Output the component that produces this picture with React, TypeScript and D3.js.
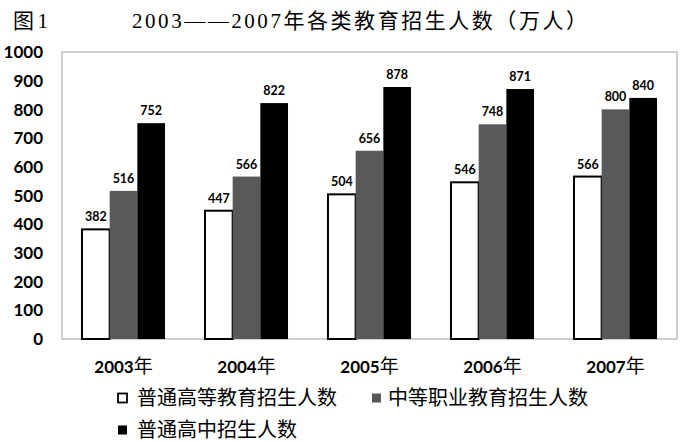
import React from "react";
import * as d3 from "d3";

const categories = ["2003年", "2004年", "2005年", "2006年", "2007年"];
const seriesNames = ["普通高等教育招生人数", "中等职业教育招生人数", "普通高中招生人数"];
const higherEdu = [382, 447, 504, 546, 566];
const vocational = [516, 566, 656, 748, 800];
const highSchool = [752, 822, 878, 871, 840];
const yTicks = [0, 100, 200, 300, 400, 500, 600, 700, 800, 900, 1000];
const titleText = "2003——2007年各类教育招生人数（万人）";
const figLabel = "图1";

const W = 687;
const H = 443;
const plot = { left: 62, right: 677, top: 52, bottom: 339 };
const fills = ["#ffffff", "#595959", "#000000"];

export default function App() {
  const series = [higherEdu, vocational, highSchool];
  const x = d3
    .scaleBand<string>()
    .domain(categories)
    .range([plot.left, plot.right])
    .paddingInner(0.325)
    .paddingOuter(0.1625);
  const xi = d3
    .scaleBand<number>()
    .domain([0, 1, 2])
    .range([0, x.bandwidth()])
    .padding(0);
  const y = d3.scaleLinear().domain([0, 1000]).range([plot.bottom, plot.top]);
  const numFont = "Lato, 'Open Sans', sans-serif";
  const cjk = "'Noto Sans CJK SC', sans-serif";

  return (
    <svg
      width={W}
      height={H}
      style={{ position: "absolute", left: 0, top: 0, background: "#fff" }}
    >
      <text x={13} y={28} fontSize={21} fontFamily={"'Liberation Serif', 'Noto Sans CJK SC', serif"} fill="#000" textLength={35} lengthAdjust="spacing">
        {figLabel}
      </text>
      <text
        x={132}
        y={28}
        fontSize={21}
        fontFamily={"'Liberation Serif', 'Noto Sans CJK SC', serif"}
        fill="#000"
        textLength={455}
        lengthAdjust="spacing"
      >
        {titleText}
      </text>

      <rect
        x={plot.left}
        y={plot.top}
        width={plot.right - plot.left}
        height={plot.bottom - plot.top}
        fill="none"
        stroke="#a0a0a0"
        strokeWidth={1}
      />

      {yTicks.map((t) => (
        <text
          key={t}
          x={43}
          y={y(t)}
          dy="0.36em"
          textAnchor="end"
          fontSize={17}
          fontWeight={700}
          fontFamily={numFont}
          fill="#000"
        >
          {t}
        </text>
      ))}

      {categories.map((c, ci) => (
        <g key={c}>
          {series.map((s, si) => {
            const bx = (x(c) as number) + (xi(si) as number);
            const bw = xi.bandwidth();
            const by = y(s[ci]);
            return (
              <g key={si}>
                <rect
                  x={bx}
                  y={by}
                  width={bw}
                  height={plot.bottom - by}
                  fill={fills[si]}
                  stroke={si === 0 ? "#000" : "none"}
                  strokeWidth={si === 0 ? 2 : 0}
                />
                <text
                  x={bx + bw / 2}
                  y={by - 8}
                  textAnchor="middle"
                  fontSize={12.5}
                  fontWeight={700}
                  fontFamily={numFont}
                  fill="#000"
                >
                  {s[ci]}
                </text>
              </g>
            );
          })}
          <text
            x={(x(c) as number) + x.bandwidth() / 2}
            y={373}
            textAnchor="middle"
            fill="#000"
          >
            <tspan fontSize={17} fontWeight={700} fontFamily={numFont}>
              {c.slice(0, 4)}
            </tspan>
            <tspan fontSize={19} fontWeight={400} fontFamily={cjk}>
              {c.slice(4)}
            </tspan>
          </text>
        </g>
      ))}

      {/* legend */}
      {[
        { i: 0, mx: 118, tx: 137, cy: 398 },
        { i: 1, mx: 372, tx: 388, cy: 398 },
        { i: 2, mx: 118, tx: 137, cy: 430 },
      ].map((l) => (
        <g key={l.i}>
          <rect
            x={l.mx}
            y={l.cy - 4.5}
            width={9}
            height={9}
            fill={fills[l.i]}
            stroke={l.i === 0 ? "#000" : "none"}
            strokeWidth={l.i === 0 ? 1.8 : 0}
          />
          <text x={l.tx} y={l.cy} dy="0.36em" fontSize={20} fontFamily={cjk} fill="#000">
            {seriesNames[l.i]}
          </text>
        </g>
      ))}
    </svg>
  );
}
